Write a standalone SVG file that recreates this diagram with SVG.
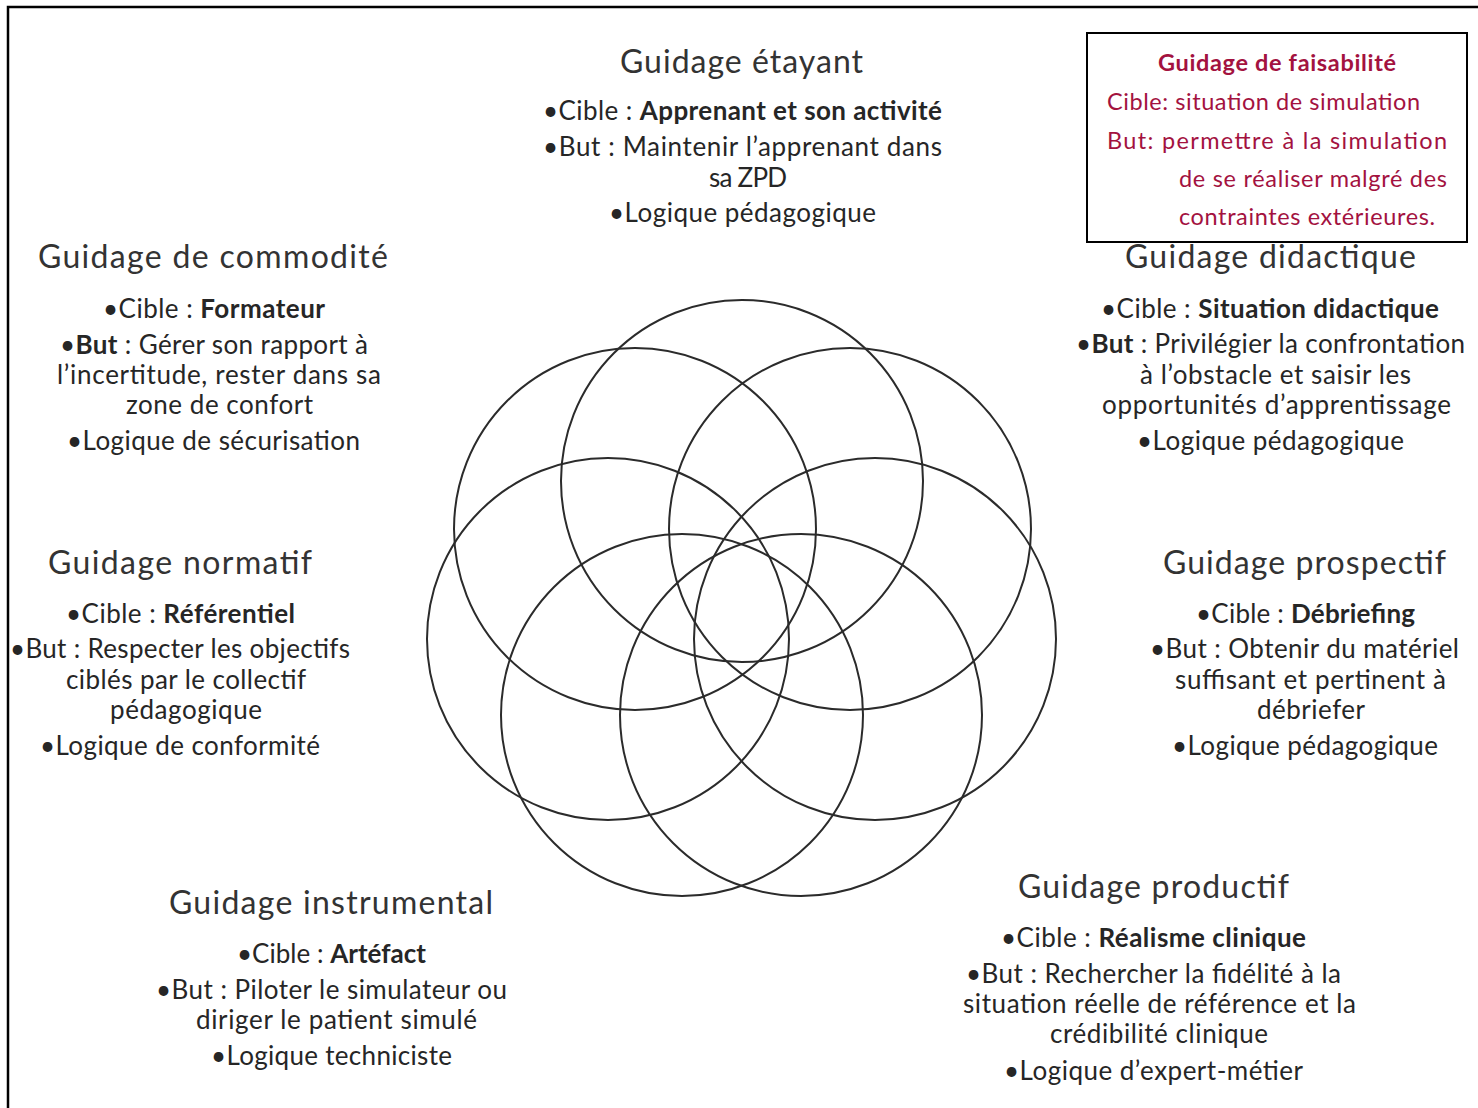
<svg xmlns="http://www.w3.org/2000/svg" width="1478" height="1108" viewBox="0 0 1478 1108">
<style>
text{font-family:Lato,"Open Sans","Liberation Sans",sans-serif;fill:#262626;}
.t{font-size:32px;text-anchor:middle;fill:#333;}
.l{font-size:26px;text-anchor:middle;}
.b{font-weight:bold;}
.f{font-size:23.5px;fill:#A3123F;}
.ring{fill:none;stroke:#2b2b2b;stroke-width:2;}
</style>
<rect width="1478" height="1108" fill="#fff"/>
<path d="M8,1108 V7 H1478" fill="none" stroke="#000" stroke-width="2.5"/>

<g id="rosette">
<circle class="ring" cx="742" cy="481" r="181"/>
<circle class="ring" cx="635" cy="529" r="181"/>
<circle class="ring" cx="850" cy="529" r="181"/>
<circle class="ring" cx="608" cy="639" r="181"/>
<circle class="ring" cx="875" cy="639" r="181"/>
<circle class="ring" cx="682" cy="715" r="181"/>
<circle class="ring" cx="801" cy="715" r="181"/>
</g>

<g id="etayant">
<text class="t" x="741.5" y="73" textLength="243">Guidage étayant</text>
<text class="l" x="742.5" y="120" textLength="399">•Cible : <tspan class="b">Apprenant et son activité</tspan></text>
<text class="l" x="742.5" y="156" textLength="399">•But : Maintenir l’apprenant dans</text>
<text class="l" x="748" y="187" textLength="78">sa ZPD</text>
<text class="l" x="742.5" y="222" textLength="267">•Logique pédagogique</text>
</g>

<g id="commodite">
<text class="t" x="213" y="268" textLength="350">Guidage de commodité</text>
<text class="l" x="214" y="318" textLength="222">•Cible : <tspan class="b">Formateur</tspan></text>
<text class="l" x="214" y="354" textLength="308">•<tspan class="b">But</tspan> : Gérer son rapport à</text>
<text class="l" x="219" y="384" textLength="324">l’incertitude, rester dans sa</text>
<text class="l" x="219.5" y="414" textLength="187">zone de confort</text>
<text class="l" x="213.5" y="450" textLength="293">•Logique de sécurisation</text>
</g>

<g id="didactique">
<text class="t" x="1270.5" y="268" textLength="291">Guidage didactique</text>
<text class="l" x="1270" y="318" textLength="338">•Cible : <tspan class="b">Situation didactique</tspan></text>
<text class="l" x="1270.5" y="353" textLength="389">•<tspan class="b">But</tspan> : Privilégier la confrontation</text>
<text class="l" x="1275.5" y="384" textLength="271">à l’obstacle et saisir les</text>
<text class="l" x="1276.5" y="414" textLength="349">opportunités d’apprentissage</text>
<text class="l" x="1270.5" y="450" textLength="267">•Logique pédagogique</text>
</g>

<g id="normatif">
<text class="t" x="180" y="574" textLength="264">Guidage normatif</text>
<text class="l" x="180.5" y="623" textLength="229">•Cible : <tspan class="b">Référentiel</tspan></text>
<text class="l" x="180" y="658" textLength="340">•But : Respecter les objectifs</text>
<text class="l" x="186" y="689" textLength="240">ciblés par le collectif</text>
<text class="l" x="186" y="719" textLength="152">pédagogique</text>
<text class="l" x="180" y="755" textLength="280">•Logique de conformité</text>
</g>

<g id="prospectif">
<text class="t" x="1304.5" y="574" textLength="283">Guidage prospectif</text>
<text class="l" x="1305.5" y="623" textLength="219">•Cible : <tspan class="b">Débriefing</tspan></text>
<text class="l" x="1304.5" y="658" textLength="309">•But : Obtenir du matériel</text>
<text class="l" x="1310.5" y="689" textLength="271">suffisant et pertinent à</text>
<text class="l" x="1311" y="719" textLength="108">débriefer</text>
<text class="l" x="1305" y="755" textLength="266">•Logique pédagogique</text>
</g>

<g id="instrumental">
<text class="t" x="331" y="914" textLength="324">Guidage instrumental</text>
<text class="l" x="331.5" y="963" textLength="189">•Cible : <tspan class="b">Artéfact</tspan></text>
<text class="l" x="331.5" y="999" textLength="351">•But : Piloter le simulateur ou</text>
<text class="l" x="336.5" y="1029" textLength="281">diriger le patient simulé</text>
<text class="l" x="331.5" y="1065" textLength="241">•Logique techniciste</text>
</g>

<g id="productif">
<text class="t" x="1153.5" y="898" textLength="271">Guidage productif</text>
<text class="l" x="1153.5" y="947" textLength="305">•Cible : <tspan class="b">Réalisme clinique</tspan></text>
<text class="l" x="1153.5" y="983" textLength="375">•But : Rechercher la fidélité à la</text>
<text class="l" x="1159.5" y="1013" textLength="393">situation réelle de référence et la</text>
<text class="l" x="1159" y="1043" textLength="218">crédibilité clinique</text>
<text class="l" x="1153.5" y="1080" textLength="299">•Logique d’expert-métier</text>
</g>

<g id="faisabilite">
<rect x="1087" y="33" width="380" height="209" fill="#fff" stroke="#000" stroke-width="2"/>
<text class="f b" x="1277" y="71" text-anchor="middle" textLength="238">Guidage de faisabilité</text>
<text class="f" x="1107" y="110" textLength="313">Cible: situation de simulation</text>
<text class="f" x="1107" y="149" textLength="340">But:  permettre  à  la  simulation</text>
<text class="f" x="1179" y="187" textLength="268">de se réaliser malgré des</text>
<text class="f" x="1179" y="225" textLength="256">contraintes extérieures.</text>
</g>
</svg>
